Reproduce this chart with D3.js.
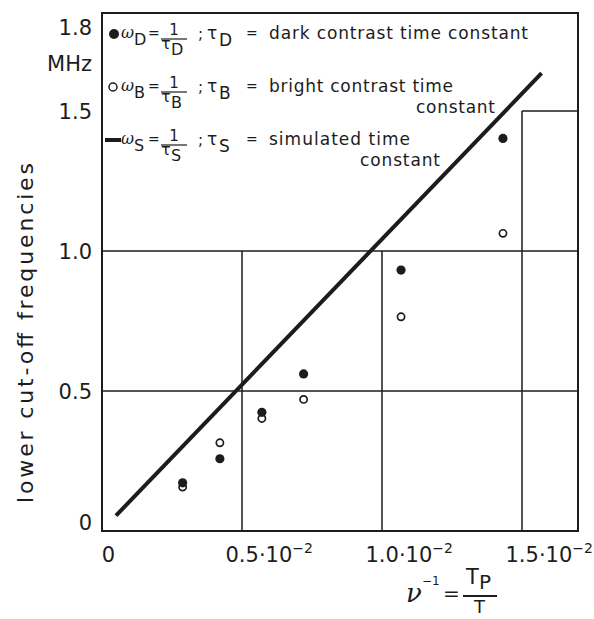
<!DOCTYPE html>
<html>
<head>
<meta charset="utf-8">
<script src="https://cdn.jsdelivr.net/npm/d3@7"></script>
<style>
  body { margin: 0; background: #fff; }
  svg { display: block; font-family: "DejaVu Sans", sans-serif; }
  text { fill: #1c1c1c; }
</style>
</head>
<body>
<svg id="chart" width="594" height="619"></svg>
<script>
// x values are in units of 10^-2, y values in MHz
var pulseRatio = [0.288, 0.421, 0.571, 0.72, 1.068, 1.432];
var darkFreq   = [0.172, 0.258, 0.424, 0.561, 0.932, 1.402];
var brightFreq = [0.157, 0.315, 0.402, 0.47, 0.765, 1.063];

var simRatio = [0.05, 1.57];
var simFreq  = [0.055, 1.635];

var xTicks = [0, 0.5, 1.0, 1.5];
var xTickLabels = ['0', '0.5\u00b710', '1.0\u00b710', '1.5\u00b710'];
var yTicks = [0, 0.5, 1.0, 1.5, 1.8];
var yTickLabels = ['0', '0.5', '1.0', '1.5', '1.8'];

var legendSubs = ['D', 'B', 'S'];
var legendText = [
  ['dark contrast time constant'],
  ['bright contrast time', 'constant'],
  ['simulated  time', 'constant']
];

// grid pieces: staircase of boxes
var gridH = [[0.5, 0, 1.7], [1.0, 0, 1.7], [1.5, 1.5, 1.7]];  // [y, x0, x1]
var gridV = [[0.5, 0, 1.0], [1.0, 0, 1.0], [1.5, 0, 1.5]];    // [x, y0, y1]

var ink = '#1c1c1c';
var svg = d3.select('#chart');

var x = d3.scaleLinear().domain([0, 1.7]).range([102, 578]);
var y = d3.scaleLinear().domain([0, 1.85]).range([531, 13]);

// grid
svg.selectAll('.gh').data(gridH).enter().append('line')
  .attr('x1', function(d) { return x(d[1]); })
  .attr('x2', function(d) { return x(d[2]); })
  .attr('y1', function(d) { return y(d[0]); })
  .attr('y2', function(d) { return y(d[0]); })
  .attr('stroke', ink).attr('stroke-width', 1.5);

svg.selectAll('.gv').data(gridV).enter().append('line')
  .attr('x1', function(d) { return x(d[0]); })
  .attr('x2', function(d) { return x(d[0]); })
  .attr('y1', function(d) { return y(d[1]); })
  .attr('y2', function(d) { return y(d[2]); })
  .attr('stroke', ink).attr('stroke-width', 1.5);

// frame
svg.append('rect')
  .attr('x', x(0)).attr('y', y(1.85))
  .attr('width', x(1.7) - x(0)).attr('height', y(0) - y(1.85))
  .attr('fill', 'none').attr('stroke', ink).attr('stroke-width', 2);

// axes (labels only)
var xAxis = svg.append('g')
  .attr('transform', 'translate(0,' + y(0) + ')')
  .call(d3.axisBottom(x).tickValues(xTicks).tickSize(0));
xAxis.select('.domain').remove();
xAxis.selectAll('text').each(function(d, i) {
  var t = d3.select(this).text(null)
    .attr('font-family', '"DejaVu Sans", sans-serif')
    .attr('font-size', 21).attr('fill', ink)
    .attr('dy', null).attr('y', 31);
  if (i === 0) {
    t.attr('text-anchor', 'middle').attr('x', 6).text(xTickLabels[i]);
  } else {
    t.attr('text-anchor', 'start').attr('x', -17);
    t.append('tspan').text(xTickLabels[i]);
    t.append('tspan').attr('font-size', 14).attr('dy', -9).text('\u22122');
  }
});

var yAxis = svg.append('g')
  .attr('transform', 'translate(' + x(0) + ',0)')
  .call(d3.axisLeft(y).tickValues(yTicks).tickSize(0).tickPadding(10)
    .tickFormat(function(d, i) { return yTickLabels[i]; }));
yAxis.select('.domain').remove();
yAxis.selectAll('text')
  .attr('font-family', '"DejaVu Sans", sans-serif')
  .attr('font-size', 21).attr('fill', ink)
  .attr('dy', '0.36em')
  .attr('y', function(d) { return d === 0 ? -9 : 0; });

svg.append('text')
  .attr('x', 92).attr('y', y(1.671)).attr('dy', '0.36em')
  .attr('text-anchor', 'end').attr('font-size', 21)
  .text('MHz');

svg.append('text')
  .attr('transform', 'translate(33,333) rotate(-90)')
  .attr('text-anchor', 'middle').attr('font-size', 22)
  .attr('textLength', 340).attr('lengthAdjust', 'spacing')
  .text('lower cut-off frequencies');

// x axis title: nu^-1 = Tp / T
var xt = svg.append('g');
xt.append('text').attr('x', 406).attr('y', 602)
  .attr('font-family', '"DejaVu Serif", serif').attr('font-style', 'italic')
  .attr('font-size', 26).text('\u03bd');
xt.append('text').attr('x', 422).attr('y', 585).attr('font-size', 12).text('\u22121');
xt.append('text').attr('x', 443).attr('y', 600).attr('font-size', 20).text('=');
xt.append('text').attr('x', 466).attr('y', 584).attr('font-size', 21).text('T');
xt.append('text').attr('x', 479).attr('y', 589).attr('font-size', 20).text('P');
xt.append('line').attr('x1', 463).attr('x2', 497).attr('y1', 596).attr('y2', 596)
  .attr('stroke', ink).attr('stroke-width', 2);
xt.append('text').attr('x', 474).attr('y', 613).attr('font-size', 18).text('T');

// simulated line
svg.append('path')
  .datum(d3.zip(simRatio, simFreq))
  .attr('d', d3.line().x(function(d) { return x(d[0]); }).y(function(d) { return y(d[1]); }))
  .attr('stroke', ink).attr('stroke-width', 4).attr('fill', 'none');

// points
svg.selectAll('.bright').data(d3.zip(pulseRatio, brightFreq)).enter().append('circle')
  .attr('cx', function(d) { return x(d[0]); })
  .attr('cy', function(d) { return y(d[1]); })
  .attr('r', 3.6).attr('fill', '#fff').attr('stroke', ink).attr('stroke-width', 1.7);

svg.selectAll('.dark').data(d3.zip(pulseRatio, darkFreq)).enter().append('circle')
  .attr('cx', function(d) { return x(d[0]); })
  .attr('cy', function(d) { return y(d[1]); })
  .attr('r', 4.6).attr('fill', ink);

// legend
legendSubs.forEach(function(sub, i) {
  var b = 39 + i * 53;
  var g = svg.append('g');
  if (i === 0) {
    g.append('circle').attr('cx', 114).attr('cy', b - 5).attr('r', 5).attr('fill', ink);
  } else if (i === 1) {
    g.append('circle').attr('cx', 113).attr('cy', b - 5).attr('r', 4)
      .attr('fill', 'none').attr('stroke', ink).attr('stroke-width', 1.5);
  } else {
    g.append('line').attr('x1', 105).attr('x2', 121).attr('y1', b - 5).attr('y2', b - 5)
      .attr('stroke', ink).attr('stroke-width', 4);
  }
  g.append('text').attr('x', 121).attr('y', b - 1).attr('font-size', 16)
    .attr('font-family', '"DejaVu Serif", serif').attr('font-style', 'italic').text('\u03c9');
  g.append('text').attr('x', 134).attr('y', b + 6).attr('font-size', 16).text(sub);
  g.append('text').attr('x', 148).attr('y', b - 1).attr('font-size', 14).text('=');
  g.append('text').attr('x', 174).attr('y', b - 4).attr('text-anchor', 'middle')
    .attr('font-size', 15).text('1');
  g.append('line').attr('x1', 161).attr('x2', 187).attr('y1', b).attr('y2', b)
    .attr('stroke', ink).attr('stroke-width', 1.2);
  g.append('text').attr('x', 161).attr('y', b + 10).attr('font-size', 16).text('\u03c4');
  g.append('text').attr('x', 171).attr('y', b + 16).attr('font-size', 16).text(sub);
  g.append('text').attr('x', 198).attr('y', b).attr('font-size', 15).text(';');
  g.append('text').attr('x', 207).attr('y', b).attr('font-size', 17).text('\u03c4');
  g.append('text').attr('x', 219).attr('y', b + 7).attr('font-size', 17).text(sub);
  g.append('text').attr('x', 246).attr('y', b - 1).attr('font-size', 14).text('=');

  var lines = legendText[i];
  var widths = [[259], [184, 79], [141, 80]][i];
  var rightEnds = [null, 495, 440];
  g.append('text').attr('x', 269).attr('y', b).attr('font-size', 17)
    .attr('textLength', widths[0]).attr('lengthAdjust', 'spacing')
    .text(lines[0]);
  if (lines[1]) {
    g.append('text').attr('x', rightEnds[i] - widths[1]).attr('y', b + 21).attr('font-size', 17)
      .attr('textLength', widths[1]).attr('lengthAdjust', 'spacing')
      .text(lines[1]);
  }
});
</script>
</body>
</html>
